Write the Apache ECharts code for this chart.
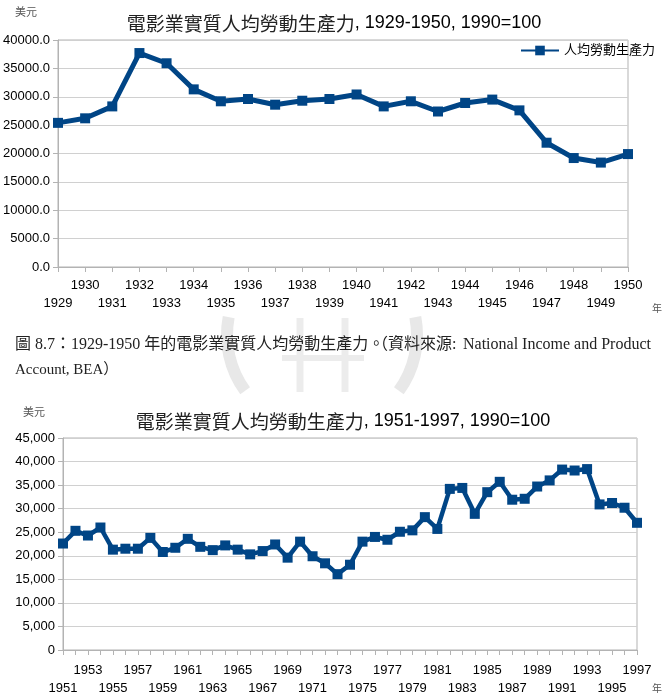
<!DOCTYPE html>
<html>
<head>
<meta charset="utf-8">
<script src="https://cdn.jsdelivr.net/npm/echarts@6/dist/echarts.min.js"></script>
<style>
    html, body { margin: 0; padding: 0; background: #fff; }
    #main { width: 670px; height: 697px; }
</style>
</head>
<body>
<div id="main"></div>
<script>
let years1 = ['1929', '1930', '1931', '1932', '1933', '1934', '1935', '1936', '1937', '1938', '1939',
    '1940', '1941', '1942', '1943', '1944', '1945', '1946', '1947', '1948', '1949', '1950'];
let values1 = [25400, 26200, 28300, 37700, 35900, 31300, 29200, 29600, 28600, 29300, 29600,
    30400, 28300, 29200, 27400, 28900, 29500, 27600, 21900, 19200, 18400, 19900];

let years2 = ['1951', '1952', '1953', '1954', '1955', '1956', '1957', '1958', '1959', '1960',
    '1961', '1962', '1963', '1964', '1965', '1966', '1967', '1968', '1969', '1970',
    '1971', '1972', '1973', '1974', '1975', '1976', '1977', '1978', '1979', '1980',
    '1981', '1982', '1983', '1984', '1985', '1986', '1987', '1988', '1989', '1990',
    '1991', '1992', '1993', '1994', '1995', '1996', '1997'];
let values2 = [22600, 25300, 24300, 26000, 21300, 21500, 21500, 23800, 20800, 21700,
    23600, 21900, 21200, 22200, 21300, 20300, 21000, 22400, 19600, 23000,
    19900, 18400, 16100, 18100, 23000, 24000, 23400, 25100, 25400, 28200,
    25700, 34200, 34400, 28900, 33500, 35700, 31900, 32100, 34700, 36000,
    38300, 38100, 38400, 30900, 31200, 30200, 27000];

let titleName = '電影業實質人均勞動生產力';
let titleRange1 = ', 1929-1950, 1990=100';
let titleRange2 = ', 1951-1997, 1990=100';
let seriesName = '人均勞動生產力';
let captionA = '圖 8.7：1929-1950 年的電影業實質人均勞動生產力。';
let captionB = '（資料來源:';
let captionC = 'National Income and Product';
let captionD = 'Account, BEA）';

let lineColor = '#004586';
let axisGray = '#b3b3b3';
let sansFont = '"Liberation Sans", Arial, "Noto Sans CJK TC", sans-serif';
let serifFont = '"Liberation Serif", "Times New Roman", "Noto Sans CJK TC", serif';

let chart = echarts.init(document.getElementById('main'), null, {renderer: 'canvas'});

// one row of year labels; the lower row is pushed down by a blank first line
function xAxisFor(gridIndex, data, showLabel, lower, drawAxis, margin) {
    return {
        type: 'category',
        gridIndex: gridIndex,
        position: 'bottom',
        data: data,
        boundaryGap: false,
        axisLine: {show: drawAxis, lineStyle: {color: axisGray}},
        axisTick: {show: drawAxis, interval: 0, length: 5, lineStyle: {color: axisGray}},
        axisLabel: {
            interval: function (index) { return showLabel(index); },
            showMinLabel: true,
            showMaxLabel: true,
            margin: margin,
            color: '#000',
            fontFamily: sansFont,
            fontSize: 13,
            lineHeight: 18,
            formatter: function (value) {
                return lower ? '\n' + value : value;
            }
        },
        splitLine: {show: false}
    };
}

function yAxisFor(gridIndex, max, fmt) {
    return {
        type: 'value',
        gridIndex: gridIndex,
        min: 0,
        max: max,
        interval: 5000,
        axisLine: {show: true, lineStyle: {color: axisGray}},
        axisTick: {show: true, length: 5, lineStyle: {color: axisGray}},
        axisLabel: {color: '#000', fontFamily: sansFont, fontSize: 13, margin: 8, formatter: fmt},
        splitLine: {lineStyle: {color: '#d0d0d0', width: 1}}
    };
}

function titleFor(text, left, top) {
    return {
        text: '{c|' + titleName + '}{a|' + text + '}',
        left: left,
        top: top,
        textAlign: 'center',
        textStyle: {
            fontWeight: 'normal',
            rich: {
                c: {fontFamily: '"Noto Sans CJK TC", sans-serif', fontSize: 19, fontWeight: 'normal', color: '#222'},
                a: {fontFamily: sansFont, fontSize: 18, fontWeight: 'normal', color: '#000'}
            }
        }
    };
}

let option = {
    backgroundColor: '#fff',
    animation: false,
    title: [
        titleFor(titleRange1, 329, 9),
        titleFor(titleRange2, 338, 407)
    ],
    legend: {
        data: [seriesName],
        left: 515,
        top: 39,
        itemWidth: 38,
        itemHeight: 12,
        itemGap: 6,
        textStyle: {fontFamily: sansFont, fontSize: 13, color: '#000'}
    },
    grid: [
        {left: 58, top: 40, width: 570, height: 227, show: true, borderColor: axisGray, borderWidth: 1},
        {left: 63, top: 438, width: 574, height: 213, show: true, borderColor: axisGray, borderWidth: 1}
    ],
    xAxis: [
        // 1929-1950: even years on top, odd years below
        xAxisFor(0, years1, function (i) { return i % 2 === 1; }, false, true, 9),
        xAxisFor(0, years1, function (i) { return i % 2 === 0; }, true, false, 9),
        // 1951-1997: 1953, 1957 ... on top, 1951, 1955 ... below
        xAxisFor(1, years2, function (i) { return i % 4 === 2; }, false, true, 11),
        xAxisFor(1, years2, function (i) { return i % 4 === 0; }, true, false, 11)
    ],
    yAxis: [
        yAxisFor(0, 40000, function (v) { return v.toFixed(1); }),
        yAxisFor(1, 45000, function (v) { return v.toLocaleString('en-US'); })
    ],
    series: [
        {
            name: seriesName,
            type: 'line',
            xAxisIndex: 0,
            yAxisIndex: 0,
            data: values1,
            symbol: 'rect',
            symbolSize: 10,
            showAllSymbol: true,
            itemStyle: {color: lineColor},
            lineStyle: {color: lineColor, width: 5}
        },
        {
            name: seriesName + '2',
            type: 'line',
            xAxisIndex: 2,
            yAxisIndex: 1,
            data: values2,
            symbol: 'rect',
            symbolSize: 10,
            showAllSymbol: true,
            itemStyle: {color: lineColor},
            lineStyle: {color: lineColor, width: 4.5}
        }
    ],
    graphic: [
        // faint watermark behind the caption
        {type: 'arc', shape: {cx: 322, cy: 335, r: 95, startAngle: Math.PI * 0.80, endAngle: Math.PI * 1.06}, style: {fill: 'none', stroke: '#e8e8e8', lineWidth: 12}, z: -10},
        {type: 'arc', shape: {cx: 322, cy: 335, r: 95, startAngle: -Math.PI * 0.06, endAngle: Math.PI * 0.20}, style: {fill: 'none', stroke: '#e8e8e8', lineWidth: 12}, z: -10},
        {type: 'polyline', shape: {points: [[300, 318], [300, 392]]}, style: {stroke: '#ececec', lineWidth: 7}, z: -10},
        {type: 'polyline', shape: {points: [[345, 318], [345, 392]]}, style: {stroke: '#ececec', lineWidth: 7}, z: -10},
        {type: 'polyline', shape: {points: [[282, 358], [364, 358]]}, style: {stroke: '#ececec', lineWidth: 6}, z: -10},
        {type: 'text', style: {x: 15, y: 13, text: '美元', fontSize: 11, fill: '#555', fontFamily: sansFont, verticalAlign: 'middle'}},
        {type: 'text', style: {x: 23, y: 413, text: '美元', fontSize: 11, fill: '#555', fontFamily: sansFont, verticalAlign: 'middle'}},
        {type: 'text', style: {x: 652, y: 309, text: '年', fontSize: 10, fill: '#555', fontFamily: sansFont, verticalAlign: 'middle'}},
        {type: 'text', style: {x: 652, y: 689, text: '年', fontSize: 10, fill: '#555', fontFamily: sansFont, verticalAlign: 'middle'}},
        {type: 'text', style: {x: 15, y: 345, text: captionA, fontSize: 16, fill: '#222', fontFamily: serifFont, verticalAlign: 'middle'}},
        {type: 'text', style: {x: 372, y: 345, text: captionB, fontSize: 16, fill: '#222', fontFamily: serifFont, verticalAlign: 'middle'}},
        {type: 'text', style: {x: 463, y: 345, text: captionC, fontSize: 16, fill: '#222', fontFamily: serifFont, verticalAlign: 'middle'}},
        {type: 'text', style: {x: 15, y: 370, text: captionD, fontSize: 15, fill: '#222', fontFamily: serifFont, verticalAlign: 'middle'}}
    ]
};

chart.setOption(option);
</script>
</body>
</html>
